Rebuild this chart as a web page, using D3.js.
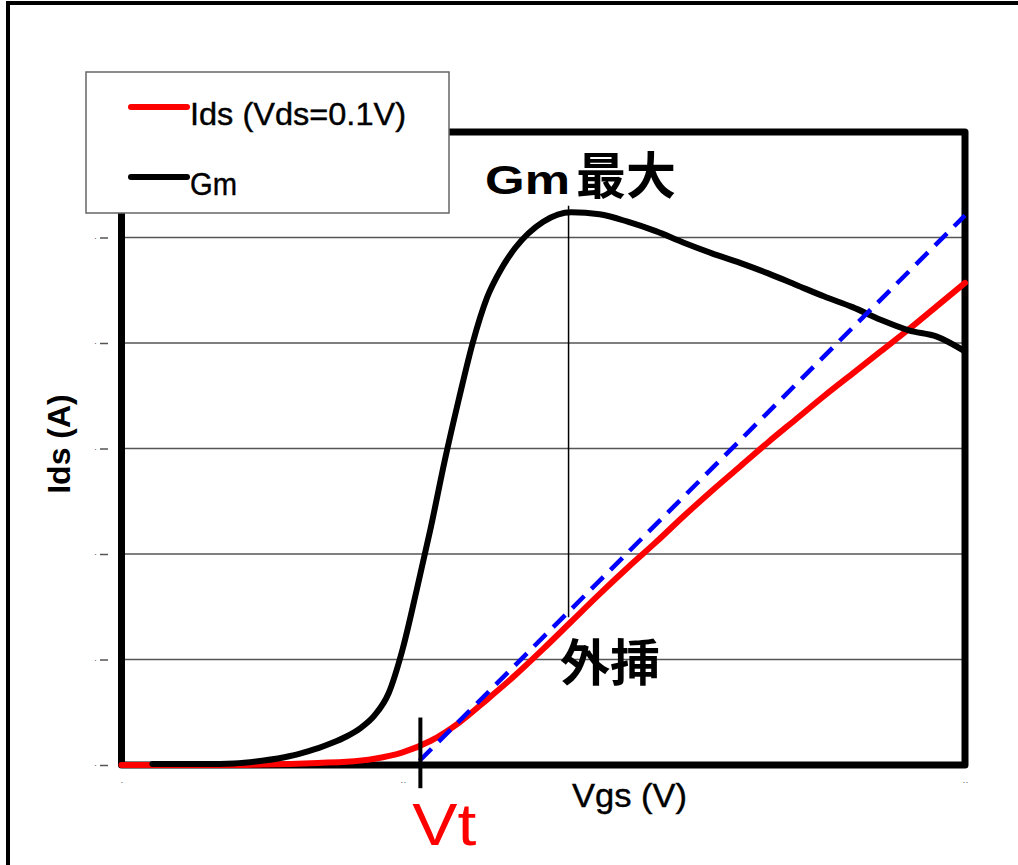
<!DOCTYPE html>
<html><head><meta charset="utf-8">
<script src="https://cdn.jsdelivr.net/npm/d3@7"></script>
<style>body{margin:0;background:#fff} svg{display:block}</style>
</head><body>
<svg id="c" width="1018" height="865"></svg>
<script>
// ---- data ----
const vgs = [0.0,0.1,0.2,0.3,0.4,0.5,0.6,0.7,0.8,0.9,1.0,1.1,1.2,1.3,1.4,1.5,1.6,1.7,1.8,1.9,2.0,2.1,2.2,2.3,2.4,2.5,2.6,2.7,2.8,2.9,3.0];
const ids = [0,0,0,0,0,0.005,0.01,0.02,0.03,0.06,0.12,0.23,0.40,0.62,0.85,1.10,1.36,1.62,1.87,2.11,2.36,2.60,2.83,3.06,3.28,3.50,3.71,3.92,4.13,4.35,4.57];
const gmVgs = [0.11,0.2,0.3,0.4,0.5,0.6,0.65,0.7,0.75,0.8,0.85,0.9,0.95,1.0,1.05,1.1,1.15,1.2,1.25,1.3,1.35,1.4,1.5,1.6,1.7,1.8,1.9,2.0,2.1,2.2,2.3,2.4,2.5,2.6,2.7,2.8,2.9,3.0];
const gm = [0.01,0.01,0.01,0.015,0.04,0.085,0.12,0.16,0.21,0.27,0.35,0.47,0.68,1.10,1.66,2.25,2.89,3.47,4.01,4.43,4.70,4.90,5.15,5.24,5.22,5.15,5.06,4.95,4.85,4.76,4.66,4.55,4.44,4.34,4.22,4.12,4.06,3.92];
const extrapVgs = [1.06, 3.0];
const extrapIds = [0.04, 5.21];
const vt = 1.063;
const gmPeakVgs = 1.59;
const yGrid = [1,2,3,4,5];
const yTicks = [0,1,2,3,4,5];
const xTicks = [0,1,3];
const xTickLabels = ["·","··","··"];
const legendLabels = ["Ids (Vds=0.1V)", "Gm"];
const legendColors = ["#ff0000", "#000000"];
const legendWidths = [216, 47];

// ---- scales ----
const svg = d3.select("#c");
const x = d3.scaleLinear().domain([0,3]).range([121.5,965]);
const y = d3.scaleLinear().domain([0,6]).range([765,132]);

// outer frame
svg.append("rect").attr("x",8).attr("y",3).attr("width",1100).attr("height",1000)
  .attr("fill","none").attr("stroke","#000").attr("stroke-width",4);

// gridlines
svg.append("g").selectAll("line").data(yGrid).join("line")
  .attr("x1",x(0)).attr("x2",x(3)).attr("y1",d=>y(d)).attr("y2",d=>y(d))
  .attr("stroke","#555").attr("stroke-width",1.5);

// y ticks
const yAx = svg.append("g").attr("transform","translate(108,0)")
  .call(d3.axisLeft(y).tickValues(yTicks).tickSize(8).tickPadding(3).tickFormat(()=>"·"));
yAx.select(".domain").remove();
yAx.selectAll("line").attr("stroke","#555").attr("stroke-width",1.5);
yAx.selectAll("text").attr("fill","#555").style("font-size","9px");

// x ticks
const xAx = svg.append("g").attr("transform","translate(0,779)")
  .call(d3.axisBottom(x).tickValues(xTicks).tickSize(0).tickPadding(0).tickFormat((d,i)=>xTickLabels[i]));
xAx.select(".domain").remove();
xAx.selectAll("text").attr("fill","#555").style("font-size","9px");

// plot frame
svg.append("rect").attr("x",x(0)).attr("y",y(6)).attr("width",x(3)-x(0)).attr("height",y(0)-y(6))
  .attr("fill","none").attr("stroke","#000").attr("stroke-width",7).attr("stroke-linejoin","round");

// vertical line at Gm max
svg.append("line").attr("x1",x(gmPeakVgs)).attr("x2",x(gmPeakVgs)).attr("y1",y(5.3)).attr("y2",y(1.4))
  .attr("stroke","#000").attr("stroke-width",1.5);

const line = d3.line().curve(d3.curveMonotoneX);

// Ids
svg.append("path").attr("d", line(vgs.map((v,i)=>[x(v), y(ids[i])])))
  .attr("fill","none").attr("stroke","#ff0000").attr("stroke-width",6).attr("stroke-linecap","round");
// Gm
svg.append("path").attr("d", line(gmVgs.map((v,i)=>[x(v), y(gm[i])])))
  .attr("fill","none").attr("stroke","#000").attr("stroke-width",6).attr("stroke-linecap","round");
// extrapolation
svg.append("path").attr("d", d3.line()(extrapVgs.map((v,i)=>[x(v), y(extrapIds[i])])))
  .attr("fill","none").attr("stroke","#0000ff").attr("stroke-width",4.5).attr("stroke-dasharray","17 10");

// Vt marker
svg.append("line").attr("x1",x(vt)).attr("x2",x(vt)).attr("y1",y(0.45)).attr("y2",y(-0.22))
  .attr("stroke","#000").attr("stroke-width",4);

// legend
svg.append("rect").attr("x",86).attr("y",72).attr("width",363).attr("height",141)
  .attr("fill","#fff").attr("stroke","#666").attr("stroke-width",1.5);
const lg = svg.append("g").selectAll("g").data(legendLabels).join("g")
  .attr("transform",(d,i)=>`translate(0,${107+i*70})`);
lg.append("line").attr("x1",131).attr("x2",187).attr("y1",0).attr("y2",0)
  .attr("stroke",(d,i)=>legendColors[i]).attr("stroke-width",6).attr("stroke-linecap","round");
lg.append("text").attr("x",190).attr("y",18).text(d=>d)
  .attr("textLength",(d,i)=>legendWidths[i]).attr("lengthAdjust","spacingAndGlyphs")
  .style("font-family","'Liberation Sans', Arial, sans-serif").style("font-size","31px").attr("fill","#000")
  .attr("stroke","#000").attr("stroke-width",0.4);

// annotation texts
const g1 = svg.append("text").attr("x",485).attr("y",194).attr("fill","#000");
g1.append("tspan").text("Gm").attr("textLength",85).attr("lengthAdjust","spacingAndGlyphs")
  .style("font-family","'Liberation Sans', Arial, sans-serif")
  .style("font-weight","bold").style("font-size","41px");
g1.append("tspan").attr("x",576).text("最大").style("font-family","'Noto Sans CJK JP', sans-serif")
  .style("font-weight","bold").style("font-size","50px");

svg.append("text").attr("x",560).attr("y",681).text("外挿").attr("fill","#000")
  .style("font-family","'Noto Sans CJK JP', sans-serif").style("font-weight","bold").style("font-size","50px");

svg.append("text").attr("x",x(vt)-8).attr("y",845).text("Vt").attr("fill","#ff0000")
  .attr("textLength",64).attr("lengthAdjust","spacingAndGlyphs")
  .style("font-family","'Liberation Sans', Arial, sans-serif").style("font-size","60px");

svg.append("text").attr("x",572).attr("y",807).text("Vgs (V)").attr("fill","#000")
  .attr("textLength",115).attr("lengthAdjust","spacingAndGlyphs")
  .attr("stroke","#000").attr("stroke-width",0.4)
  .style("font-family","'Liberation Sans', Arial, sans-serif").style("font-size","33px");

svg.append("text").attr("transform","translate(70,444) rotate(-90)").attr("text-anchor","middle")
  .text("Ids (A)").attr("fill","#000")
  .style("font-family","'Liberation Sans', Arial, sans-serif").style("font-weight","bold").style("font-size","32px");
</script>
</body></html>
